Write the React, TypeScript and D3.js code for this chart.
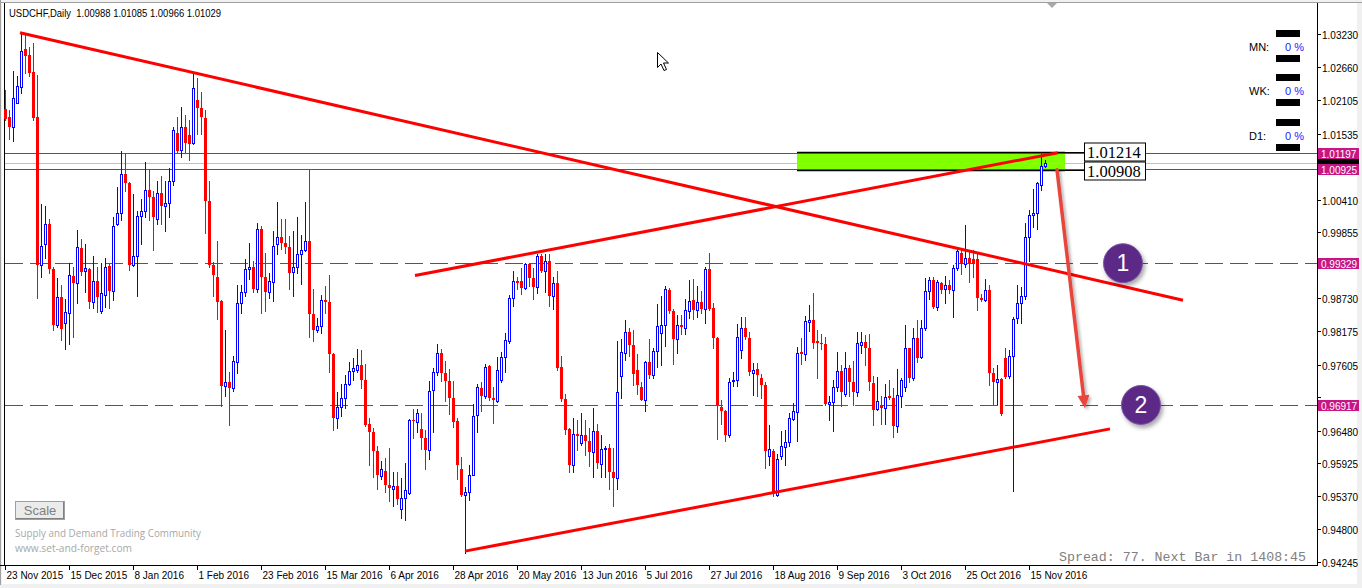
import React from "react";
import * as d3 from "d3";

// ---------- DATA ----------
const OPEN = [
  1.0195,1.0181,1.0165,1.0206,1.0233,1.0297,1.0287,1.0259,1.0182,0.9930,
  0.9965,1.0000,0.9923,0.9828,0.9875,0.9832,0.9849,0.9911,0.9900,0.9958,
  0.9919,0.9923,0.9867,0.9902,0.9851,0.9879,0.9928,0.9885,1.0000,1.0019,
  1.0085,1.0070,0.9930,0.9945,1.0013,1.0021,1.0058,1.0045,1.0008,1.0052,
  1.0031,1.0036,1.0072,1.0155,1.0125,1.0165,1.0151,1.0137,1.0211,1.0197,
  1.0180,1.0038,0.9930,0.9910,0.9868,0.9724,0.9731,0.9721,0.9765,0.9865,
  0.9884,0.9923,0.9927,0.9889,0.9991,0.9910,0.9884,0.9901,0.9966,0.9978,
  0.9968,0.9961,0.9918,0.9927,0.9949,0.9956,0.9971,0.9847,0.9819,0.9826,
  0.9870,0.9867,0.9779,0.9670,0.9689,0.9704,0.9728,0.9750,0.9752,0.9760,
  0.9735,0.9659,0.9646,0.9613,0.9571,0.9580,0.9556,0.9549,0.9553,0.9515,
  0.9534,0.9542,0.9666,0.9663,0.9650,0.9636,0.9615,0.9717,0.9748,0.9781,
  0.9746,0.9732,0.9704,0.9664,0.9582,0.9538,0.9543,0.9573,0.9675,0.9721,
  0.9707,0.9758,0.9704,0.9699,0.9735,0.9773,0.9801,0.9873,0.9903,0.9903,
  0.9891,0.9931,0.9907,0.9892,0.9946,0.9920,0.9937,0.9877,0.9900,0.9757,
  0.9702,0.9650,0.9590,0.9642,0.9627,0.9641,0.9630,0.9612,0.9647,0.9591,
  0.9616,0.9618,0.9578,0.9567,0.9741,0.9781,0.9816,0.9794,0.9752,0.9722,
  0.9701,0.9764,0.9742,0.9783,0.9815,0.9827,0.9888,0.9851,0.9804,0.9828,
  0.9822,0.9851,0.9870,0.9853,0.9867,0.9855,0.9923,0.9857,0.9806,0.9689,
  0.9681,0.9640,0.9732,0.9734,0.9785,0.9822,0.9806,0.9746,0.9753,0.9738,
  0.9725,0.9605,0.9613,0.9538,0.9605,0.9621,0.9628,0.9667,0.9680,0.9782,
  0.9779,0.9833,0.9836,0.9800,0.9797,0.9796,0.9693,0.9696,0.9722,0.9749,
  0.9711,0.9755,0.9731,0.9713,0.9793,0.9799,0.9789,0.9729,0.9685,0.9691,
  0.9687,0.9707,0.9704,0.9656,0.9707,0.9722,0.9788,0.9738,0.9805,0.9773,
  0.9823,0.9885,0.9904,0.9859,0.9900,0.9889,0.9896,0.9888,0.9924,0.9950,
  0.9931,0.9941,0.9940,0.9940,0.9874,0.9870,0.9888,0.9746,0.9730,0.9736,
  0.9772,0.9741,0.9775,0.9840,0.9865,0.9878,0.9978,1.0015,1.0018,1.0066,
  1.00988,
];
const HIGH = [
  1.0227,1.0194,1.0260,1.0252,1.0324,1.0321,1.0301,1.0308,1.0253,1.0034,
  1.0030,1.0009,0.9927,0.9907,0.9896,0.9872,0.9933,0.9927,0.9990,0.9974,
  0.9966,0.9924,0.9945,0.9927,0.9934,0.9941,0.9932,1.0012,1.0063,1.0124,
  1.0120,1.0071,1.0051,1.0021,1.0043,1.0105,1.0093,1.0055,1.0072,1.0081,
  1.0072,1.0095,1.0164,1.0182,1.0198,1.0186,1.0177,1.0259,1.0248,1.0225,
  1.0194,1.0072,0.9935,0.9971,0.9870,0.9819,0.9748,0.9775,0.9896,0.9896,
  0.9940,0.9967,0.9937,1.0001,0.9996,0.9950,0.9916,0.9988,1.0037,1.0008,
  1.0008,0.9980,0.9988,1.0011,0.9981,1.0037,1.0092,0.9889,0.9840,0.9879,
  0.9895,0.9913,0.9781,0.9714,0.9728,0.9743,0.9764,0.9771,0.9787,0.9785,
  0.9762,0.9670,0.9653,0.9622,0.9597,0.9602,0.9619,0.9578,0.9578,0.9568,
  0.9593,0.9668,0.9685,0.9685,0.9678,0.9649,0.9733,0.9755,0.9796,0.9787,
  0.9767,0.9753,0.9733,0.9669,0.9603,0.9552,0.9589,0.9694,0.9728,0.9730,
  0.9762,0.9760,0.9723,0.9773,0.9782,0.9814,0.9879,0.9920,0.9910,0.9925,
  0.9933,0.9933,0.9925,0.9949,0.9949,0.9949,0.9948,0.9910,0.9919,0.9775,
  0.9711,0.9652,0.9670,0.9666,0.9678,0.9666,0.9652,0.9686,0.9660,0.9640,
  0.9622,0.9625,0.9619,0.9801,0.9804,0.9836,0.9822,0.9819,0.9779,0.9731,
  0.9766,0.9804,0.9789,0.9864,0.9877,0.9894,0.9890,0.9855,0.9845,0.9845,
  0.9872,0.9904,0.9906,0.9895,0.9886,0.9926,0.9950,0.9866,0.9808,0.9701,
  0.9684,0.9737,0.9748,0.9830,0.9842,0.9842,0.9816,0.9763,0.9763,0.9745,
  0.9731,0.9657,0.9616,0.9609,0.9647,0.9649,0.9678,0.9695,0.9791,0.9806,
  0.9843,0.9861,0.9883,0.9819,0.9812,0.9808,0.9707,0.9734,0.9782,0.9760,
  0.9782,0.9760,0.9766,0.9816,0.9816,0.9810,0.9812,0.9741,0.9740,0.9707,
  0.9728,0.9735,0.9720,0.9753,0.9737,0.9828,0.9789,0.9822,0.9837,0.9837,
  0.9907,0.9910,0.9910,0.9904,0.9901,0.9911,0.9904,0.9930,0.9957,0.9955,
  0.9998,0.9955,0.9956,0.9951,0.9881,0.9906,0.9896,0.9754,0.9759,0.9738,
  0.9789,0.9785,0.9842,0.9896,0.9893,1.0001,1.0023,1.0059,1.0071,1.0118,
  1.01085,
];
const LOW = [
  1.0177,1.0144,1.0141,1.0205,1.0223,1.0256,1.0252,1.0177,0.9873,0.9909,
  0.9941,0.9916,0.9819,0.9825,0.9802,0.9787,0.9796,0.9807,0.9866,0.9913,
  0.9884,0.9856,0.9856,0.9850,0.9849,0.9859,0.9856,0.9870,0.9998,1.0007,
  1.0055,0.9921,0.9928,0.9877,0.9966,1.0012,1.0007,0.9956,1.0000,0.9999,
  0.9988,1.0011,1.0066,1.0122,1.0114,1.0123,1.0109,1.0136,1.0153,1.0153,
  0.9984,0.9927,0.9877,0.9838,0.9690,0.9707,0.9658,0.9716,0.9746,0.9848,
  0.9877,0.9906,0.9884,0.9884,0.9848,0.9852,0.9874,0.9869,0.9948,0.9957,
  0.9950,0.9889,0.9877,0.9916,0.9898,0.9953,0.9808,0.9801,0.9816,0.9814,
  0.9848,0.9748,0.9649,0.9653,0.9673,0.9686,0.9725,0.9734,0.9748,0.9721,
  0.9656,0.9590,0.9569,0.9549,0.9566,0.9544,0.9528,0.9520,0.9523,0.9499,
  0.9496,0.9540,0.9636,0.9646,0.9617,0.9583,0.9600,0.9646,0.9743,0.9733,
  0.9699,0.9677,0.9654,0.9565,0.9537,0.9440,0.9530,0.9572,0.9646,0.9681,
  0.9704,0.9701,0.9661,0.9697,0.9730,0.9748,0.9798,0.9860,0.9889,0.9881,
  0.9889,0.9895,0.9872,0.9882,0.9918,0.9884,0.9860,0.9855,0.9751,0.9699,
  0.9642,0.9578,0.9577,0.9615,0.9624,0.9606,0.9588,0.9569,0.9584,0.9569,
  0.9569,0.9549,0.9519,0.9548,0.9704,0.9769,0.9775,0.9726,0.9710,0.9700,
  0.9682,0.9737,0.9737,0.9757,0.9760,0.9792,0.9848,0.9762,0.9781,0.9813,
  0.9813,0.9839,0.9838,0.9842,0.9848,0.9832,0.9853,0.9789,0.9634,0.9660,
  0.9631,0.9637,0.9724,0.9724,0.9771,0.9804,0.9742,0.9708,0.9707,0.9704,
  0.9585,0.9590,0.9537,0.9536,0.9599,0.9590,0.9622,0.9666,0.9631,0.9761,
  0.9769,0.9818,0.9789,0.9737,0.9787,0.9692,0.9666,0.9647,0.9716,0.9690,
  0.9707,0.9707,0.9691,0.9707,0.9781,0.9759,0.9718,0.9657,0.9683,0.9659,
  0.9659,0.9702,0.9637,0.9646,0.9688,0.9716,0.9731,0.9734,0.9765,0.9772,
  0.9820,0.9872,0.9857,0.9854,0.9883,0.9865,0.9883,0.9841,0.9921,0.9914,
  0.9927,0.9901,0.9910,0.9854,0.9869,0.9869,0.9726,0.9693,0.9693,0.9675,
  0.9737,0.9738,0.9546,0.9831,0.9831,0.9872,0.9936,0.9995,0.9991,1.0058,
  1.00966,
];
const CLOSE = [
  1.0178,1.0165,1.0214,1.0235,1.0294,1.0286,1.0257,1.0180,0.9930,0.9962,
  1.0000,0.9923,0.9827,0.9875,0.9821,0.9850,0.9913,0.9900,0.9960,0.9918,
  0.9924,0.9867,0.9903,0.9876,0.9882,0.9927,0.9885,0.9996,1.0019,1.0085,
  1.0070,0.9930,0.9945,1.0013,1.0021,1.0058,1.0045,1.0011,1.0052,1.0030,
  1.0036,1.0072,1.0160,1.0124,1.0165,1.0137,1.0136,1.0231,1.0197,1.0181,
  1.0039,0.9930,0.9913,0.9867,0.9724,0.9731,0.9721,0.9767,0.9865,0.9884,
  0.9923,0.9927,0.9889,0.9991,0.9910,0.9884,0.9903,0.9962,0.9978,0.9968,
  0.9961,0.9916,0.9927,0.9949,0.9956,0.9971,0.9847,0.9819,0.9826,0.9870,
  0.9867,0.9779,0.9670,0.9688,0.9704,0.9728,0.9750,0.9754,0.9759,0.9735,
  0.9658,0.9646,0.9613,0.9573,0.9582,0.9556,0.9550,0.9553,0.9531,0.9534,
  0.9547,0.9666,0.9664,0.9678,0.9636,0.9615,0.9716,0.9748,0.9781,0.9746,
  0.9732,0.9704,0.9663,0.9590,0.9539,0.9543,0.9573,0.9673,0.9723,0.9707,
  0.9757,0.9704,0.9701,0.9751,0.9773,0.9802,0.9874,0.9903,0.9899,0.9891,
  0.9932,0.9907,0.9892,0.9946,0.9920,0.9937,0.9877,0.9900,0.9755,0.9702,
  0.9649,0.9590,0.9642,0.9639,0.9641,0.9630,0.9612,0.9647,0.9593,0.9616,
  0.9619,0.9578,0.9567,0.9714,0.9782,0.9816,0.9794,0.9744,0.9726,0.9701,
  0.9764,0.9742,0.9784,0.9826,0.9828,0.9889,0.9851,0.9804,0.9828,0.9825,
  0.9853,0.9869,0.9854,0.9867,0.9855,0.9923,0.9855,0.9806,0.9691,0.9681,
  0.9640,0.9731,0.9734,0.9807,0.9822,0.9807,0.9748,0.9751,0.9742,0.9725,
  0.9613,0.9616,0.9540,0.9599,0.9622,0.9628,0.9669,0.9682,0.9780,0.9779,
  0.9835,0.9836,0.9798,0.9797,0.9795,0.9694,0.9697,0.9722,0.9750,0.9713,
  0.9755,0.9731,0.9713,0.9798,0.9799,0.9789,0.9731,0.9684,0.9699,0.9687,
  0.9706,0.9704,0.9656,0.9708,0.9734,0.9788,0.9738,0.9806,0.9772,0.9823,
  0.9885,0.9904,0.9859,0.9901,0.9888,0.9896,0.9888,0.9924,0.9954,0.9932,
  0.9942,0.9933,0.9932,0.9874,0.9870,0.9888,0.9746,0.9730,0.9736,0.9677,
  0.9739,0.9775,0.9838,0.9865,0.9877,0.9978,1.0015,1.0019,1.0069,1.0099,
  1.01029,
];

const DATE_LABELS = [
  "23 Nov 2015", "15 Dec 2015", "8 Jan 2016", "1 Feb 2016", "23 Feb 2016",
  "15 Mar 2016", "6 Apr 2016", "28 Apr 2016", "20 May 2016", "13 Jun 2016",
  "5 Jul 2016", "27 Jul 2016", "18 Aug 2016", "9 Sep 2016", "3 Oct 2016",
  "25 Oct 2016", "15 Nov 2016",
];
const DATE_BARS = [0, 16, 32, 48, 64, 80, 96, 112, 128, 144, 160, 176, 192, 208, 224, 240, 256];

const PRICE_TICKS = [
  1.0323, 1.0266, 1.02105, 1.01535, 1.0097, 1.0041, 0.99855, 0.9929, 0.9873,
  0.98175, 0.97605, 0.9705, 0.9648, 0.95925, 0.9537, 0.948, 0.94245,
];

const SOLID_LEVELS = [1.01197, 1.00925];
const DASHED_LEVELS = [0.99329, 0.96917];
const BID = 1.01029;

const ZONE_BARS = [198, 265];
const ZONE_PRICES = [1.01214, 1.00908];

const TRENDLINES = [
  [[3.75, 1.0325], [294.5, 0.987]],
  [[102.5, 0.9912], [263.25, 1.0121]],
  [[115, 0.9443], [276.25, 0.9651]],
];
const ARROW = [[263, 1.0092], [270, 0.9686]];
const CIRCLE_LABELS = ["1", "2"];
const CIRCLE_BARS = [279.5, 284];
const CIRCLE_PRICES = [0.99329, 0.96917];

const PANEL_TF = ["MN:", "WK:", "D1:"];
const PANEL_PCT = ["0 %", "0 %", "0 %"];

const TITLE = "USDCHF,Daily  1.00988 1.01085 1.00966 1.01029";

// ---------- CHART ----------
const W = 1362;
const H = 588;
const RIGHT = 1317;
const BOTTOM = 565;
const MAGENTA = "#c71585";
const SANS = "'Liberation Sans', Arial, sans-serif";

export default function App() {
  const x = d3.scaleLinear().domain([0, 260]).range([5, 1045]);
  const y = d3.scaleLinear().domain([0.94245, 1.0323]).range([562, 34]);
  const fmt = d3.format(".5f");

  const arrowStart = [x(ARROW[0][0]), y(ARROW[0][1])];
  const arrowEnd = [x(ARROW[1][0]), y(ARROW[1][1])];
  const dx = arrowEnd[0] - arrowStart[0];
  const dy = arrowEnd[1] - arrowStart[1];
  const len = Math.hypot(dx, dy);
  const ux = dx / len, uy = dy / len;
  const nx = -uy, ny = ux;
  const headL = 13, headW = 6;
  const bx = arrowEnd[0] - ux * headL, by = arrowEnd[1] - uy * headL;

  const zx0 = x(ZONE_BARS[0]);
  const zx1 = x(ZONE_BARS[1]);
  const zy0 = Math.round(y(ZONE_PRICES[0])) + 0.5;
  const zy1 = Math.round(y(ZONE_PRICES[1])) + 0.5;

  const axisLabels = [
    { p: BID, bg: "#000000" },
    { p: SOLID_LEVELS[0], bg: MAGENTA },
    { p: SOLID_LEVELS[1], bg: MAGENTA },
    { p: DASHED_LEVELS[0], bg: MAGENTA },
    { p: DASHED_LEVELS[1], bg: MAGENTA },
  ];
  const labelYs = axisLabels.map((l) => y(l.p));

  const panelCenters = [47, 91, 136];

  return (
    <svg
      width={W}
      height={H}
      style={{ position: "absolute", left: 0, top: 0, display: "block" }}
      fontFamily={SANS}
    >
      <defs>
        <filter id="shadow" x="-50%" y="-50%" width="200%" height="200%">
          <feDropShadow dx="2" dy="3" stdDeviation="2" floodColor="#000" floodOpacity="0.35" />
        </filter>
        <filter id="ashadow" x="-50%" y="-20%" width="200%" height="140%">
          <feDropShadow dx="2" dy="2" stdDeviation="1.5" floodColor="#000" floodOpacity="0.3" />
        </filter>
      </defs>

      {/* window frame */}
      <rect x={0} y={0} width={W} height={H} fill="#f0f0f0" />
      <rect x={2} y={3} width={1355} height={581} fill="#ffffff" />
      <line x1={0} x2={W} y1={2.5} y2={2.5} stroke="#a0a0a0" />
      <line x1={0.5} x2={0.5} y1={0} y2={585} stroke="#a0a0a0" />
      <line x1={4.5} x2={4.5} y1={3} y2={BOTTOM} stroke="#000" />
      <line x1={0} x2={RIGHT + 1} y1={BOTTOM + 0.5} y2={BOTTOM + 0.5} stroke="#000" />
      <line x1={RIGHT + 0.5} x2={RIGHT + 0.5} y1={3} y2={BOTTOM + 1} stroke="#000" />

      {/* demand zone */}
      <rect x={zx0} y={zy0} width={zx1 - zx0} height={zy1 - zy0} fill="#7fff00" />
      <line x1={zx0} x2={zx1} y1={zy0} y2={zy0} stroke="#000" strokeWidth={1.5} />
      <line x1={zx0} x2={zx1} y1={zy1} y2={zy1} stroke="#000" strokeWidth={1.5} />

      {/* horizontal level lines */}
      <line x1={5} x2={RIGHT} y1={Math.round(y(BID)) + 0.5} y2={Math.round(y(BID)) + 0.5} stroke="#c0c0c0" />
      {SOLID_LEVELS.map((p) => (
        <line key={p} x1={5} x2={RIGHT} y1={Math.round(y(p)) + 0.5} y2={Math.round(y(p)) + 0.5} stroke={MAGENTA} />
      ))}
      {DASHED_LEVELS.map((p) => (
        <line key={p} x1={5} x2={RIGHT} y1={Math.round(y(p)) + 0.5} y2={Math.round(y(p)) + 0.5} stroke={MAGENTA} strokeDasharray="18,7" />
      ))}

      {/* candles */}
      <g shapeRendering="crispEdges">
        {OPEN.map((o, i) => {
          const c = CLOSE[i];
          const cx = Math.round(x(i));
          const yo = Math.round(y(o));
          const yc = Math.round(y(c));
          const yh = Math.round(y(HIGH[i]));
          const yl = Math.round(y(LOW[i]));
          const bull = c >= o;
          const col = bull ? "#0000ff" : "#ff0000";
          return (
            <g key={i}>
              <line x1={cx + 0.5} x2={cx + 0.5} y1={yh} y2={yl + 1} stroke={col} />
              {bull ? (
                <rect x={cx - 0.5} y={yc + 0.5} width={2} height={Math.max(yo - yc, 0)} fill="#ffffff" stroke={col} />
              ) : (
                <rect x={cx - 1} y={yo} width={3} height={Math.max(yc - yo, 1)} fill={col} />
              )}
            </g>
          );
        })}
      </g>

      {/* trendlines */}
      {TRENDLINES.map((t, k) => (
        <line
          key={k}
          x1={x(t[0][0])}
          y1={y(t[0][1])}
          x2={x(t[1][0])}
          y2={y(t[1][1])}
          stroke="#ff0000"
          strokeWidth={3}
        />
      ))}

      {/* zone price labels */}
      {ZONE_PRICES.map((p, k) => {
        const yy = Math.round(y(p)) + 0.5;
        const top = k === 0 ? yy - 9.5 : yy - 8.5;
        return (
          <g key={p}>
            <line x1={zx1} x2={1084} y1={yy} y2={yy} stroke="#000" />
            <rect x={1084.5} y={top} width={61} height={18} fill="#fff" stroke="#000" />
            <text x={1087} y={top + 15} fontFamily="'Liberation Serif', 'Times New Roman', serif" fontSize={16.5} fill="#000">
              {fmt(p)}
            </text>
          </g>
        );
      })}

      {/* red arrow */}
      <g filter="url(#ashadow)">
        <line x1={arrowStart[0]} y1={arrowStart[1]} x2={bx} y2={by} stroke="#e8453c" strokeWidth={3.5} strokeLinecap="round" />
        <polygon
          points={`${arrowEnd[0]},${arrowEnd[1]} ${bx + nx * headW},${by + ny * headW} ${bx - nx * headW},${by - ny * headW}`}
          fill="#e8453c"
        />
      </g>

      {/* numbered circles */}
      {CIRCLE_LABELS.map((lab, k) => {
        const cx = x(CIRCLE_BARS[k]);
        const cy = y(CIRCLE_PRICES[k]);
        return (
          <g key={lab}>
            <circle cx={cx} cy={cy} r={19.5} fill="#5b2c86" stroke="#7e56a8" strokeWidth={1} filter="url(#shadow)" />
            <text x={cx} y={cy + 8} textAnchor="middle" fontSize={23} fill="#ffffff" fontFamily={SANS}>
              {lab}
            </text>
          </g>
        );
      })}

      {/* price axis ticks (labels hidden where a price box covers them) */}
      {PRICE_TICKS.map((p) => {
        const yy = Math.round(y(p)) + 0.5;
        const covered = labelYs.some((ly) => Math.abs(ly - y(p)) < 8);
        return (
          <g key={p}>
            <line x1={RIGHT} x2={RIGHT + 4} y1={yy} y2={yy} stroke="#000" />
            {!covered && (
              <text x={1322} y={yy + 4} fontSize={10} fill="#000">
                {fmt(p)}
              </text>
            )}
          </g>
        );
      })}

      {/* price axis labels */}
      {axisLabels.map((l, k) => {
        const yy = Math.round(y(l.p)) + 0.5;
        return (
          <g key={l.p}>
            <rect x={1318} y={yy - 5.5} width={41} height={11} fill={l.bg} />
            {k > 0 && (
              <text x={1321} y={yy + 4} fontSize={10} fill="#ffffff">
                {fmt(l.p)}
              </text>
            )}
          </g>
        );
      })}

      {/* time axis */}
      {DATE_BARS.map((b, k) => {
        const xx = Math.round(x(b)) + 0.5;
        return (
          <g key={b}>
            <line x1={xx} x2={xx} y1={BOTTOM} y2={BOTTOM + 5} stroke="#000" />
            <text x={xx + 1} y={579} fontSize={10} fill="#000">
              {DATE_LABELS[k]}
            </text>
          </g>
        );
      })}

      {/* title */}
      <text x={9} y={17} fontSize={11} fill="#000" textLength={212} lengthAdjust="spacingAndGlyphs" style={{ whiteSpace: "pre" }}>
        {TITLE}
      </text>

      {/* right panel */}
      {PANEL_TF.map((tf, k) => {
        const c = panelCenters[k];
        return (
          <g key={tf}>
            <rect x={1276} y={c - 17} width={24} height={7} fill="#000" />
            <rect x={1276} y={c + 8} width={24} height={7} fill="#000" />
            <text x={1249} y={c + 4} fontSize={11} fill="#000">
              {tf}
            </text>
            <text x={1285} y={c + 4} fontSize={11} fill="#2020ff">
              {PANEL_PCT[k]}
            </text>
          </g>
        );
      })}

      {/* scale button */}
      <rect x={15.5} y={501.5} width={49} height={18} fill="#ebebeb" stroke="#a0a0a0" />
      <line x1={16} x2={64} y1={518.5} y2={518.5} stroke="#808080" />
      <line x1={63.5} x2={63.5} y1={502} y2={519} stroke="#808080" />
      <text x={40} y={515} textAnchor="middle" fontSize={13} fill="#808080">
        Scale
      </text>

      {/* watermark */}
      <text x={15} y={537} fontSize={10} fill="#a8a8a8" fontFamily="'Open Sans', sans-serif" textLength={186} lengthAdjust="spacingAndGlyphs">
        Supply and Demand Trading Community
      </text>
      <text x={15} y={552} fontSize={10} fill="#a8a8a8" fontFamily="'Open Sans', sans-serif" textLength={117} lengthAdjust="spacingAndGlyphs">
        www.set-and-forget.com
      </text>

      {/* spread info */}
      <text x={1059} y={561} fontSize={13} fill="#808080" fontFamily="'Liberation Mono', 'Courier New', monospace" textLength={247} lengthAdjust="spacingAndGlyphs" style={{ whiteSpace: "pre" }}>
        Spread: 77. Next Bar in 1408:45
      </text>

      {/* shift marker */}
      <polygon points="1047,3 1057,3 1052,8" fill="#a8a8a8" />

      {/* mouse cursor */}
      <path
        d="M657.5,52.5 L657.5,67.5 L661,64 L664,70.5 L666.5,69.5 L663.5,63 L668.5,63 Z"
        fill="#ffffff"
        stroke="#000"
        strokeWidth={1}
      />
    </svg>
  );
}
